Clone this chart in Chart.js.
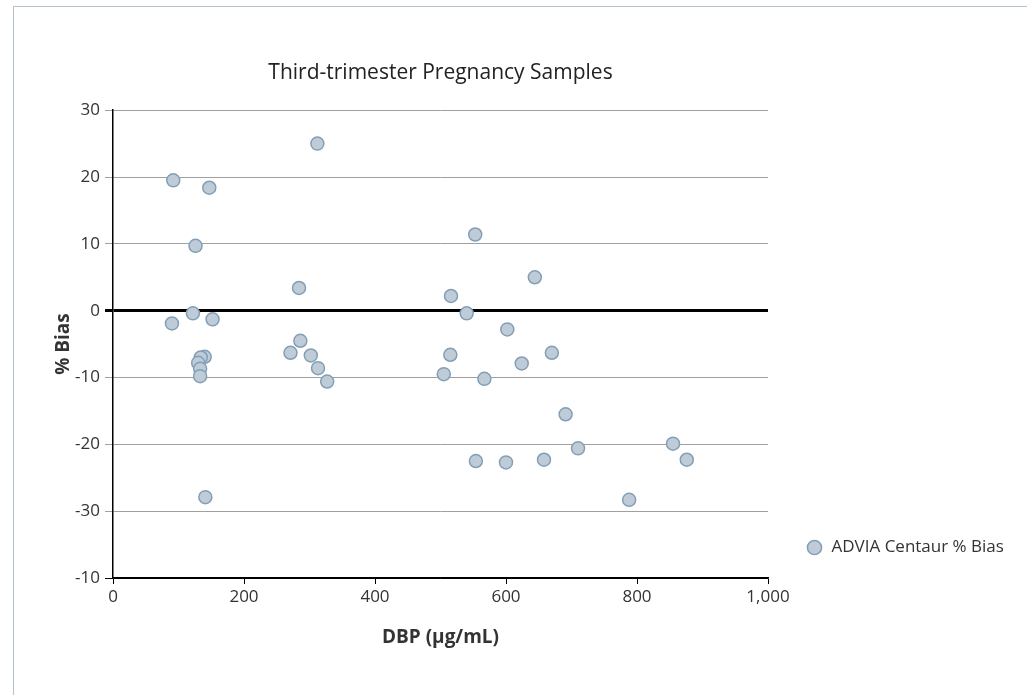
<!DOCTYPE html>
<html>
<head>
<meta charset="utf-8">
<title>Third-trimester Pregnancy Samples</title>
<script src="https://cdn.jsdelivr.net/npm/chart.js@4/dist/chart.umd.min.js"></script>
<style>
  html, body { margin: 0; padding: 0; background: #fff; overflow: hidden; }
  #frame { position: absolute; left: 13px; top: 6px; width: 1100px; height: 800px;
           border-left: 1px solid #b5c3cf; border-top: 1px solid #b5c3cf; }
  #chart { position: absolute; left: 0; top: 0; }
</style>
</head>
<body>
<div id="frame"></div>
<canvas id="chart" width="1027" height="695"></canvas>
<script>
// DBP concentration (µg/mL) of each sample
const dbpValues = [
    92, 147, 126, 90, 122, 152, 140, 134, 130, 133, 133, 141,
    312, 284, 286, 271, 302, 313, 327,
    553, 516, 540, 644, 602, 515, 670, 505, 567, 624, 691,
    554, 600, 658, 710, 788, 855, 876
];
// % bias of each sample
const biasValues = [
    19.5, 18.4, 9.7, -1.9, -0.4, -1.3, -6.9, -7.0, -7.8, -8.7, -9.8, -27.9,
    25.0, 3.4, -4.5, -6.3, -6.7, -8.6, -10.6,
    11.4, 2.2, -0.4, 5.0, -2.8, -6.6, -6.3, -9.5, -10.2, -7.9, -15.5,
    -22.5, -22.7, -22.3, -20.6, -28.3, -19.9, -22.3
];
// tick labels as printed on the original (bottom one reads -10)
const yTickLabels = ['-10', '-30', '-20', '-10', '0', '10', '20', '30'];
const xTickLabels = ['0', '200', '400', '600', '800', '1,000'];

Chart.defaults.font.family = '"Open Sans", "Noto Sans", sans-serif';
Chart.defaults.color = '#333';

// nudge the legend to sit low on the right, like the original
const legendShift = {
    id: 'legendShift',
    afterLayout(chart, args, opts) {
        let lg = chart.legend;
        lg.left += opts.x; lg.right += opts.x;
        lg.top += opts.y; lg.bottom += opts.y;
    }
};

var ctx = document.getElementById('chart').getContext('2d');
new Chart(ctx, {
    type: 'scatter',
    data: {
        datasets: [{
            label: 'ADVIA Centaur % Bias',
            data: dbpValues.map((x, i) => ({ x: x, y: biasValues[i] })),
            backgroundColor: '#bfccd7',
            borderColor: '#829fb7',
            borderWidth: 1.5,
            pointRadius: 6.5,
            pointHoverRadius: 6.5,
            pointStyle: 'circle'
        }]
    },
    options: {
        responsive: false,
        animation: false,
        devicePixelRatio: 1,
        layout: { padding: { left: 0, top: 0, right: 47, bottom: 0 } },
        plugins: {
            title: {
                display: true,
                text: 'Third-trimester Pregnancy Samples',
                fullSize: false,
                color: '#222',
                font: { size: 21, weight: 'normal' },
                padding: { top: 60, bottom: 25 }
            },
            legend: {
                position: 'right',
                align: 'end',
                fullSize: false,
                maxWidth: 212,
                labels: {
                    usePointStyle: true,
                    boxWidth: 17,
                    boxHeight: 10,
                    padding: 10,
                    color: '#333',
                    font: { size: 17 }
                }
            },
            legendShift: { x: 28, y: -12 },
            tooltip: { enabled: false }
        },
        scales: {
            x: {
                type: 'linear',
                min: 0,
                max: 1000,
                ticks: {
                    stepSize: 200,
                    padding: 3,
                    color: '#333',
                    font: { size: 17 },
                    callback: (v, i) => xTickLabels[i]
                },
                grid: { drawOnChartArea: false, tickLength: 6, color: '#000', lineWidth: 1 },
                border: { color: '#000', width: 1.5 },
                title: {
                    display: true,
                    text: 'DBP (µg/mL)',
                    color: '#333',
                    font: { size: 19, weight: 'bold' },
                    padding: { top: 0, bottom: 46 }
                },
                afterFit: function(scale) { scale.height = 117; }
            },
            y: {
                type: 'linear',
                min: -40,
                max: 30,
                ticks: {
                    stepSize: 10,
                    padding: 5,
                    color: '#333',
                    font: { size: 17 },
                    callback: (v, i) => yTickLabels[i]
                },
                grid: {
                    color: c => (c.tick && (c.tick.value === 0 || c.tick.value === -40)) ? '#000' : '#a0a0a0',
                    lineWidth: c => (c.tick && c.tick.value === 0) ? 3 : 1,
                    tickLength: 8
                },
                border: { color: '#000', width: 1.5 },
                title: {
                    display: true,
                    text: '% Bias',
                    color: '#333',
                    font: { size: 19, weight: 'bold' },
                    padding: { top: 52, bottom: 0 }
                },
                afterFit: function(scale) { scale.width = 113; }
            }
        }
    },
    plugins: [legendShift]
});
</script>
</body>
</html>
